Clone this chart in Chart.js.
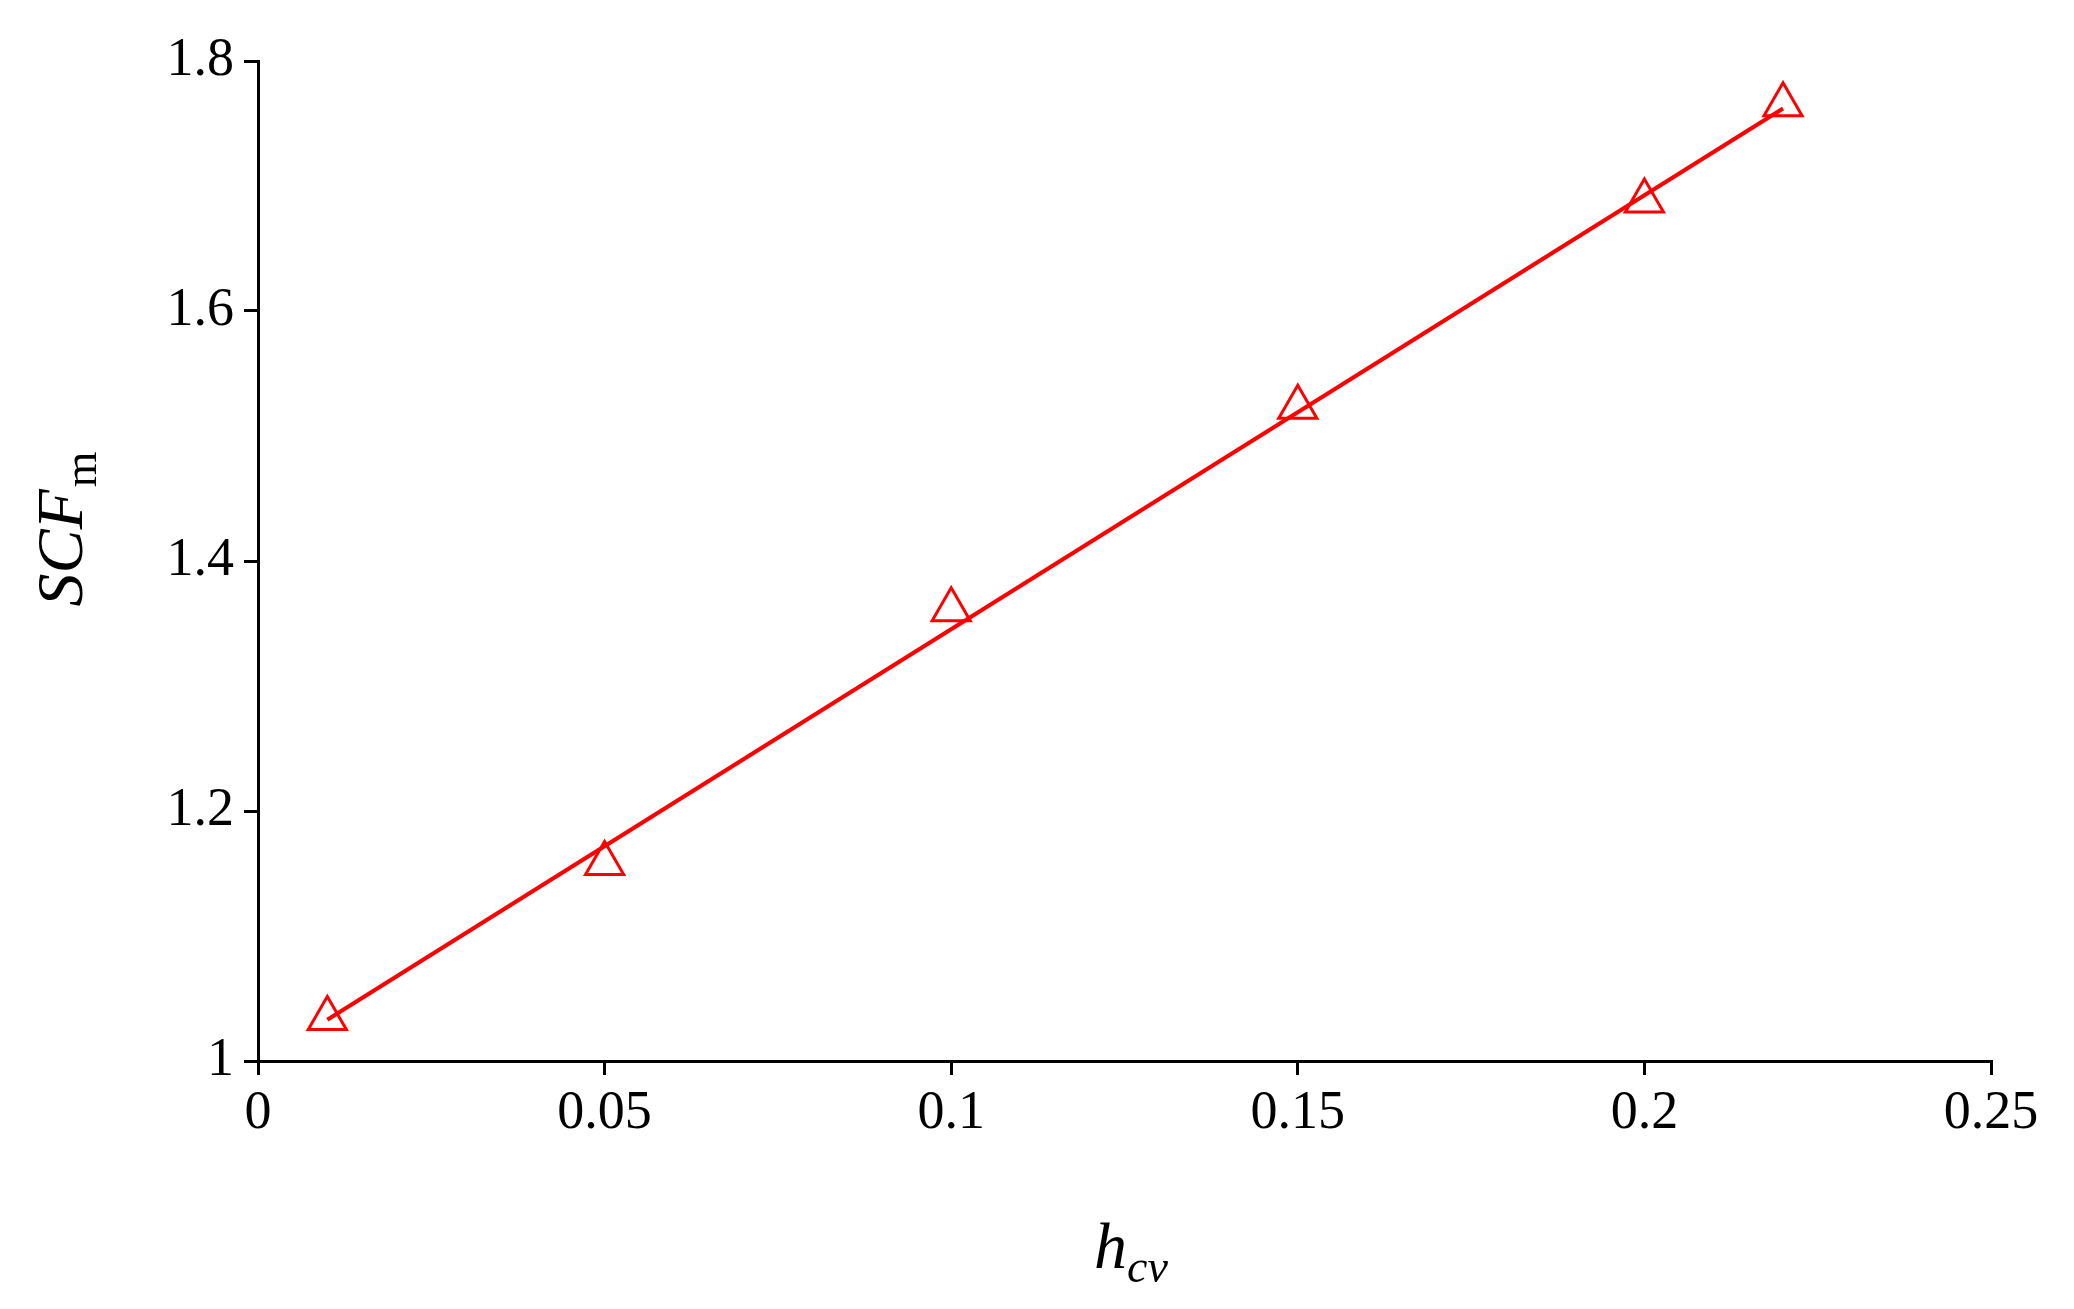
<!DOCTYPE html>
<html><head><meta charset="utf-8">
<script src="https://cdn.jsdelivr.net/npm/chart.js@4"></script>
<style>html,body{margin:0;padding:0;background:#fff}#w{width:2074px;height:1309px}</style>
</head><body><div id="w"><canvas id="c"></canvas></div>
<script>
const hcv = [0.01, 0.05, 0.1, 0.15, 0.2, 0.22];
const scfm = [1.034, 1.158, 1.361, 1.523, 1.688, 1.765];
const fitX = [0.01, 0.22];
const fitY = [1.033, 1.762];
const xTicks = [0, 0.05, 0.1, 0.15, 0.2, 0.25];
const yTicks = [1, 1.2, 1.4, 1.6, 1.8];
const red = '#ff0000';
const tickFont = {family:'Liberation Serif', size:54};
const titles = {
  id:'titles',
  afterDraw(ch){
    const c = ch.ctx; c.save(); c.fillStyle='#000';
    // x title
    c.textBaseline='alphabetic';
    c.font='italic 66px "Liberation Serif"';
    const w1=c.measureText('h').width;
    c.font='italic 46px "Liberation Serif"';
    const w2=c.measureText('cv').width;
    let x0=1131-(w1+w2)/2, yb=1268;
    c.font='italic 66px "Liberation Serif"'; c.fillText('h',x0,yb);
    c.font='italic 46px "Liberation Serif"'; c.fillText('cv',x0+w1,yb+14);
    // y title
    c.translate(82,530); c.rotate(-Math.PI/2);
    c.font='italic 66px "Liberation Serif"';
    const v1=c.measureText('SCF').width;
    c.font='46px "Liberation Serif"';
    const v2=c.measureText('m').width;
    const s=-(v1+v2)/2;
    c.font='italic 66px "Liberation Serif"'; c.fillText('SCF',s,0);
    c.font='46px "Liberation Serif"'; c.fillText('m',s+v1+2,14);
    c.restore();
  }
};
new Chart(document.getElementById('c'),{
  type:'scatter',
  data:{datasets:[
    {data:fitX.map((x,i)=>({x,y:fitY[i]})),showLine:true,borderColor:red,borderWidth:4,pointRadius:0},
    {data:hcv.map((x,i)=>({x,y:scfm[i]})),pointStyle:'triangle',pointRadius:22,pointBorderColor:red,pointBackgroundColor:'rgba(0,0,0,0)',pointBorderWidth:3,showLine:false}
  ]},
  options:{responsive:true,maintainAspectRatio:false,animation:false,
    layout:{padding:{left:0,right:83,top:61,bottom:0}},
    plugins:{legend:{display:false},tooltip:{enabled:false}},
    scales:{
      x:{type:'linear',min:0,max:0.25,
        afterBuildTicks:s=>{s.ticks=xTicks.map(v=>({value:v}))},
        afterFit:s=>{s.height=248},
        ticks:{font:tickFont,color:'#000',padding:6,callback:v=>String(v)},
        grid:{drawOnChartArea:false,tickLength:14,color:'#000',lineWidth:3},
        border:{color:'#000',width:3}},
      y:{type:'linear',min:1,max:1.8,
        afterBuildTicks:s=>{s.ticks=yTicks.map(v=>({value:v}))},
        afterFit:s=>{s.width=258},
        ticks:{font:tickFont,color:'#000',padding:10,callback:v=>String(v)},
        grid:{drawOnChartArea:false,tickLength:14,color:'#000',lineWidth:3},
        border:{color:'#000',width:3}}
    }},
  plugins:[titles]
});
</script></body></html>
